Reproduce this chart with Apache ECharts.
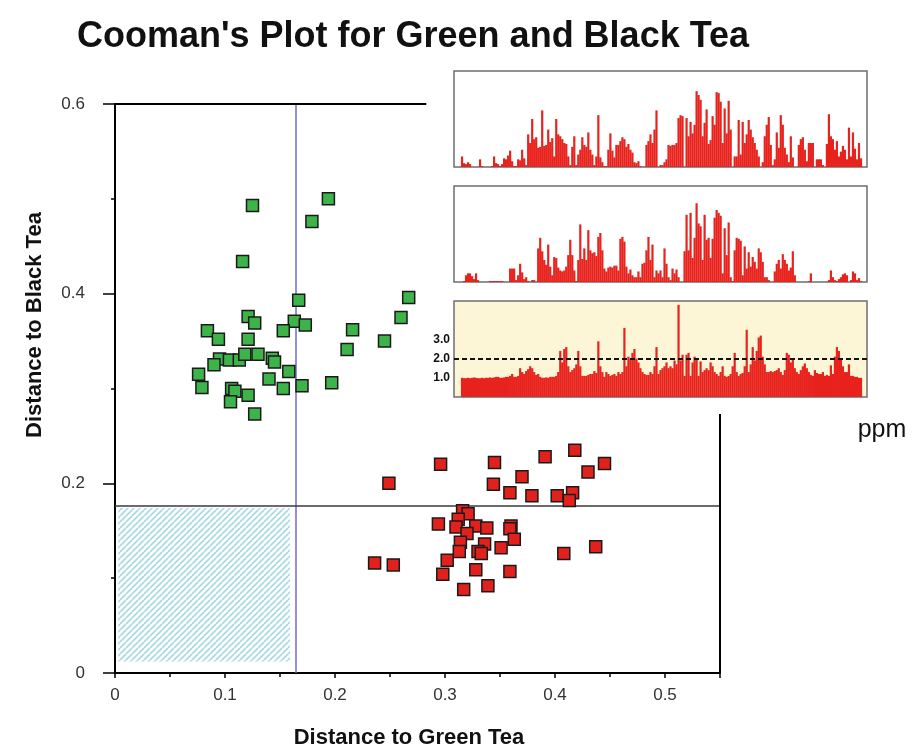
<!DOCTYPE html>
<html>
<head>
<meta charset="utf-8">
<script src="https://cdn.jsdelivr.net/npm/echarts@6/dist/echarts.min.js"></script>
<style>
  html, body { margin: 0; padding: 0; background: #fff; }
  #chart { width: 914px; height: 754px; }
</style>
</head>
<body>
<div id="chart"></div>
<script>
// Samples: [distance to green tea, distance to black tea]
const greenTea = [
  [0.125,0.493],[0.194,0.500],[0.179,0.476],[0.116,0.434],[0.167,0.393],[0.267,0.396],
  [0.260,0.375],[0.121,0.376],[0.127,0.369],[0.163,0.371],[0.173,0.367],[0.216,0.362],
  [0.153,0.361],[0.084,0.361],[0.094,0.352],[0.121,0.352],[0.245,0.350],[0.211,0.341],
  [0.095,0.331],[0.104,0.330],[0.113,0.330],[0.118,0.336],[0.130,0.336],[0.143,0.332],
  [0.145,0.328],[0.090,0.325],[0.158,0.318],[0.076,0.315],[0.140,0.310],[0.079,0.301],
  [0.106,0.300],[0.109,0.297],[0.121,0.293],[0.153,0.300],[0.170,0.303],[0.197,0.306],
  [0.105,0.286],[0.127,0.273]
];
const blackTea = [
  [0.296,0.220],[0.345,0.222],[0.391,0.228],[0.418,0.235],[0.445,0.221],[0.430,0.212],
  [0.370,0.207],[0.249,0.200],[0.344,0.199],[0.359,0.190],[0.379,0.187],[0.402,0.187],
  [0.416,0.190],[0.413,0.182],[0.316,0.171],[0.321,0.168],[0.312,0.162],[0.294,0.157],
  [0.310,0.154],[0.328,0.155],[0.338,0.153],[0.360,0.155],[0.359,0.152],[0.320,0.147],
  [0.363,0.141],[0.314,0.138],[0.336,0.136],[0.351,0.132],[0.313,0.128],[0.330,0.128],
  [0.333,0.126],[0.437,0.133],[0.408,0.126],[0.302,0.119],[0.236,0.116],[0.253,0.114],
  [0.328,0.109],[0.359,0.107],[0.298,0.104],[0.339,0.092],[0.317,0.088]
];

// Class limits and the region where a sample fits both classes
const greenLimit = 0.1645;
const blackLimit = 0.176;
const overlapBox = [[0.003, 0.174], [0.159, 0.012]];

// Axis ranges and tick steps
const xRange = [0, 0.55];
const yRange = [0, 0.6];
const xStep = 0.1;
const yStep = 0.2;
// How far the plot frame runs along the top and right edges
const frameTopEnd = 0.283;
const frameRightEnd = 0.273;

// Spectra (relative heights, 0-100 of the panel) and the ratio trace
const topSpectrum = [
  11,4,3,5,3,0,0,0,0,8, 1,0,0,0,0,1,11,4,3,1, 3,9,8,12,17,6,1,1,8,7, 18,9,2,34,25,50,29,31,20,21,
  59,22,23,39,26,30,11,50,34,32, 29,25,24,11,2,21,32,2,13,18, 31,23,21,36,18,13,2,11,54,10, 5,1,1,18,35,17,10,23,23,27,
  31,29,21,24,18,15,5,4,6,1, 0,0,23,27,34,25,39,59,0,2, 2,5,8,23,22,23,23,25,51,54, 53,0,51,32,47,35,44,79,75,70,
  32,46,60,24,28,53,44,78,77,68, 25,61,35,69,39,0,11,11,49,13, 47,25,34,49,39,31,25,18,11,0, 5,32,44,52,23,2,8,36,20,54,
  44,20,13,5,32,10,0,0,23,29, 31,18,6,25,25,25,0,8,8,8, 2,0,24,55,32,29,18,27,11,16, 22,18,8,41,11,36,19,8,25,9
];
const middleSpectrum = [
  0,1,7,9,9,6,3,9,2,0, 0,0,0,0,1,1,1,1,1,1, 1,0,0,0,14,14,14,2,7,19, 10,3,5,1,0,2,2,0,35,46,
  32,23,18,39,16,7,26,25,15,12, 11,12,16,28,44,28,12,1,23,60, 24,35,23,54,33,30,31,27,47,51, 33,14,11,15,16,15,17,17,12,45,
  47,42,16,9,13,7,5,5,11,5, 19,20,33,47,23,39,5,12,9,12, 5,35,19,5,2,14,9,13,5,0, 0,32,70,33,72,25,46,82,61,58,
  23,70,44,46,25,45,67,75,72,69, 9,56,28,62,5,1,33,46,45,43, 7,37,14,31,16,26,21,14,35,31, 21,5,5,2,0,0,11,19,23,14,
  29,23,19,12,15,32,7,0,0,0, 0,0,0,1,9,0,0,0,0,0, 0,0,0,2,12,5,2,1,3,5, 8,9,7,0,2,11,9,2,4,1
];
const ratioSpectrum = [
  1.0,0.98,0.98,1.0,0.98,1.0,1.02,1.0,0.98,0.98, 1.0,0.98,1.0,1.0,1.02,1.0,1.02,1.05,1.05,1.0,
  1.0,1.02,1.05,1.05,1.1,1.2,1.05,1.05,1.1,1.5, 1.3,1.2,1.35,1.45,1.6,1.5,1.3,1.15,1.2,1.05,
  1.0,1.0,1.02,1.0,1.05,1.05,1.05,1.1,1.3,2.4, 1.8,2.5,2.6,1.6,1.3,1.4,1.5,1.7,2.4,1.6,
  1.1,1.1,1.1,1.15,1.2,1.2,1.35,1.25,2.9,1.6, 1.3,1.05,1.3,1.2,1.1,1.15,1.2,1.1,1.3,1.2,
  1.3,3.6,1.6,2.1,2.0,2.3,2.5,2.0,1.8,1.5, 1.3,1.2,1.15,1.15,1.3,1.2,1.6,2.6,1.2,1.4,
  1.5,1.6,1.8,1.5,1.6,1.5,1.9,1.7,4.8,1.9, 2.2,1.1,2.2,2.3,1.1,1.8,2.1,2.0,1.1,1.85,
  1.3,1.4,1.5,1.4,1.8,1.6,1.3,1.2,1.1,1.3, 1.6,1.1,1.05,1.1,1.2,1.6,2.3,1.3,1.1,1.2,
  1.25,1.6,3.5,1.3,1.7,2.6,1.9,2.4,3.1,3.2, 2.1,1.7,1.3,1.3,1.35,1.3,1.35,1.4,1.5,1.3,
  1.15,1.4,2.3,2.2,1.8,2.0,1.5,1.3,1.2,1.4, 1.6,1.75,1.5,1.3,1.15,1.1,1.4,1.25,1.2,1.2,
  1.3,1.1,1.15,1.1,1.65,1.2,2.1,2.6,2.4,2.0, 1.6,1.3,1.3,1.7,1.1,1.1,1.05,1.05,1.0,1.0
];
const ratioTicks = [1, 2, 3];
const ratioThreshold = 2.0;

const FONT = '"Liberation Sans", Arial, Helvetica, sans-serif';
const RED = '#e8221c';

// Diagonal light-cyan hatching for the overlap region
function hatchPattern() {
  const s = 6;
  const c = document.createElement('canvas');
  c.width = s; c.height = s;
  const g = c.getContext('2d');
  g.fillStyle = '#ffffff';
  g.fillRect(0, 0, s, s);
  g.strokeStyle = '#a6d9e4';
  g.lineWidth = 1.7;
  for (const k of [-s, 0, s]) {
    g.beginPath(); g.moveTo(k, s); g.lineTo(k + s, 0); g.stroke();
  }
  return c;
}

const onStep = (v, step) => Math.abs(v / step - Math.round(v / step)) < 1e-6;
const fmtTick = v => (v === 0 ? '0' : v.toFixed(1));

const chart = echarts.init(document.getElementById('chart'), null, { renderer: 'canvas' });

const insetGrid = (top, bg) => ({
  left: 454, right: 47, top: top, height: 96,
  show: true, borderColor: '#6e6e6e', borderWidth: 1.5, backgroundColor: bg, z: 1
});
const insetX = idx => ({ type: 'value', gridIndex: idx, min: -4, max: 202, show: false });
const spectrumSeries = (idx, values) => ({
  type: 'bar', xAxisIndex: idx, yAxisIndex: idx, silent: true,
  barWidth: 2.2, itemStyle: { color: RED },
  data: values.map((v, i) => [i, v])
});

chart.setOption({
  animation: false,
  backgroundColor: '#ffffff',
  title: {
    text: "Cooman's Plot for Green and Black Tea",
    left: 72, top: 14,
    textStyle: { fontFamily: FONT, fontSize: 36, fontWeight: 'bold', color: '#111' }
  },
  grid: [
    { left: 115, right: 194, top: 104, bottom: 81 },
    insetGrid(71, '#ffffff'),
    insetGrid(186, '#ffffff'),
    insetGrid(301, '#fcf6d6')
  ],
  xAxis: [
    {
      type: 'value', gridIndex: 0, min: xRange[0], max: xRange[1], interval: xStep,
      axisLine: { lineStyle: { color: '#000', width: 2 } },
      axisTick: { length: 5, lineStyle: { color: '#000', width: 1.5 } },
      minorTick: { show: true, splitNumber: 2, length: 4, lineStyle: { color: '#000', width: 1.5 } },
      splitLine: { show: false },
      axisLabel: {
        margin: 14, fontFamily: FONT, fontSize: 17, color: '#333',
        formatter: v => (onStep(v, xStep) ? fmtTick(v) : '')
      }
    },
    insetX(1), insetX(2), insetX(3)
  ],
  yAxis: [
    {
      type: 'value', gridIndex: 0, min: yRange[0], max: yRange[1], interval: yStep,
      axisLine: { lineStyle: { color: '#000', width: 2 } },
      axisTick: { length: 12, lineStyle: { color: '#000', width: 1.5 } },
      minorTick: { show: true, splitNumber: 2, length: 4, lineStyle: { color: '#000', width: 1.5 } },
      splitLine: { show: false },
      axisLabel: {
        margin: 30, fontFamily: FONT, fontSize: 17, color: '#333',
        formatter: v => (onStep(v, yStep) ? fmtTick(v) : '')
      }
    },
    { type: 'value', gridIndex: 1, min: 0, max: 100, show: false },
    { type: 'value', gridIndex: 2, min: 0, max: 100, show: false },
    {
      type: 'value', gridIndex: 3, min: 0, max: 5,
      axisLine: { show: false },
      splitLine: { show: false },
      axisTick: { show: true, inside: true, length: 5, customValues: ratioTicks,
                  lineStyle: { color: '#111', width: 1.2 } },
      axisLabel: {
        customValues: ratioTicks, margin: 4, fontFamily: FONT, fontSize: 12,
        fontWeight: 'bold', color: '#111', formatter: v => v.toFixed(1)
      }
    }
  ],
  series: [
    {
      name: 'Green tea', type: 'scatter', xAxisIndex: 0, yAxisIndex: 0, z: 5,
      symbol: 'rect', symbolSize: 12,
      itemStyle: { color: '#3cb44a', borderColor: '#1a1a1a', borderWidth: 1.5, opacity: 1 },
      data: greenTea,
      markLine: {
        silent: true, symbol: ['none', 'none'], label: { show: false }, z: 3,
        data: [
          [{ coord: [greenLimit, yRange[0]], lineStyle: { color: '#6d6dcf', width: 1.5, type: 'solid' } },
           { coord: [greenLimit, yRange[1]] }],
          [{ coord: [xRange[0], blackLimit], lineStyle: { color: '#3a3a3a', width: 1.5, type: 'solid' } },
           { coord: [xRange[1], blackLimit] }],
          [{ coord: [xRange[0], yRange[1]], lineStyle: { color: '#000', width: 2, type: 'solid' } },
           { coord: [frameTopEnd, yRange[1]] }],
          [{ coord: [xRange[1], yRange[0]], lineStyle: { color: '#000', width: 2, type: 'solid' } },
           { coord: [xRange[1], frameRightEnd] }]
        ]
      }
    },
    {
      name: 'Black tea', type: 'scatter', xAxisIndex: 0, yAxisIndex: 0, z: 5,
      symbol: 'rect', symbolSize: 12,
      itemStyle: { color: '#e2211c', borderColor: '#1a1a1a', borderWidth: 1.5, opacity: 1 },
      data: blackTea,
      markArea: {
        silent: true,
        itemStyle: { color: { image: hatchPattern(), repeat: 'repeat' } },
        data: [[{ coord: overlapBox[0] }, { coord: overlapBox[1] }]]
      }
    },
    spectrumSeries(1, topSpectrum),
    spectrumSeries(2, middleSpectrum),
    Object.assign(spectrumSeries(3, ratioSpectrum), {
      markLine: {
        silent: true, symbol: ['none', 'none'], label: { show: false },
        lineStyle: { color: '#111', width: 2, type: [5, 3] },
        data: [{ yAxis: ratioThreshold }]
      }
    })
  ],
  graphic: [
    {
      type: 'text', x: 35, y: 325, rotation: Math.PI / 2,
      style: { text: 'Distance to Black Tea', font: 'bold 22px ' + FONT, fill: '#111',
               align: 'center', verticalAlign: 'middle', textAlign: 'center', textVerticalAlign: 'middle' }
    },
    {
      type: 'text', x: 409, y: 738,
      style: { text: 'Distance to Green Tea', font: 'bold 22px ' + FONT, fill: '#111',
               align: 'center', verticalAlign: 'middle', textAlign: 'center', textVerticalAlign: 'middle' }
    },
    {
      type: 'text', x: 882, y: 430,
      style: { text: 'ppm', font: '25px ' + FONT, fill: '#111',
               align: 'center', verticalAlign: 'middle', textAlign: 'center', textVerticalAlign: 'middle' }
    }
  ]
});
</script>
</body>
</html>
